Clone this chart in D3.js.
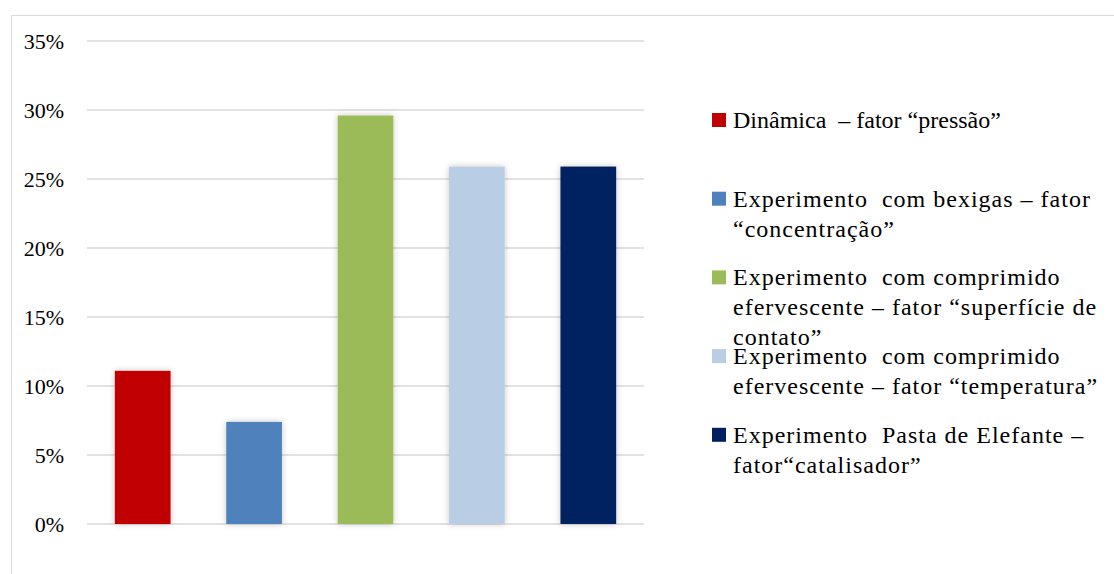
<!DOCTYPE html>
<html>
<head>
<meta charset="utf-8">
<script src="https://cdn.jsdelivr.net/npm/d3@7"></script>
<style>
  html, body { margin: 0; padding: 0; background: #fff; }
  svg text { font-family: "Liberation Serif", "Times New Roman", serif; fill: #000; white-space: pre; }
</style>
</head>
<body>
<svg id="chart" width="1114" height="574"></svg>
<script>
// Share of activities by reaction-rate factor
const categories = [
  "Dinâmica – fator “pressão”",
  "Experimento com bexigas – fator “concentração”",
  "Experimento com comprimido efervescente – fator “superfície de contato”",
  "Experimento com comprimido efervescente – fator “temperatura”",
  "Experimento Pasta de Elefante – fator “catalisador”"
];
const values = [0.111, 0.074, 0.296, 0.259, 0.259];
const colors = ["#c00000", "#4f81bd", "#9bbb59", "#b9cde5", "#002060"];
const legendLines = [
  ["Dinâmica  – fator “pressão”"],
  ["Experimento  com bexigas – fator", "“concentração”"],
  ["Experimento  com comprimido", "efervescente – fator “superfície de", "contato”"],
  ["Experimento  com comprimido", "efervescente – fator “temperatura”"],
  ["Experimento  Pasta de Elefante –", "fator“catalisador”"]
];
const yTicks = [0, 0.05, 0.10, 0.15, 0.20, 0.25, 0.30, 0.35];

const svg = d3.select("#chart");

// chart frame
svg.append("rect")
  .attr("x", 11.5).attr("y", 15.5)
  .attr("width", 1200).attr("height", 700)
  .attr("fill", "none").attr("stroke", "#d9d9d9").attr("stroke-width", 1);

// soft glow behind bars
const defs = svg.append("defs");
const f = defs.append("filter").attr("id", "glow")
  .attr("x", "-50%").attr("y", "-50%").attr("width", "200%").attr("height", "200%");
f.append("feDropShadow")
  .attr("dx", 0).attr("dy", 0).attr("stdDeviation", 3)
  .attr("flood-color", "#000").attr("flood-opacity", 0.22);

const x = d3.scaleBand()
  .domain(categories)
  .range([87, 644])
  .paddingInner(0.5)
  .paddingOuter(0.25);

const y = d3.scaleLinear().domain([0, 0.35]).range([524, 41]);

// gridlines
svg.append("g")
  .selectAll("line")
  .data(yTicks)
  .join("line")
  .attr("x1", 87).attr("x2", 644)
  .attr("y1", d => y(d)).attr("y2", d => y(d))
  .attr("stroke", "#d9d9d9").attr("stroke-width", 1.5);

// y-axis labels
const yAxis = d3.axisLeft(y)
  .tickValues(yTicks)
  .tickFormat(d3.format(".0%"))
  .tickSize(0)
  .tickPadding(0);
const gy = svg.append("g").attr("transform", "translate(64,0)").call(yAxis);
gy.select(".domain").remove();
gy.selectAll("text")
  .attr("font-size", 22)
  .attr("dy", "0.36em")
  .attr("fill", "#000")
  .style("font-family", "'Liberation Serif', 'Times New Roman', serif");

// bars
svg.append("g")
  .selectAll("rect")
  .data(values)
  .join("rect")
  .attr("x", (d, i) => x(categories[i]))
  .attr("width", x.bandwidth())
  .attr("y", d => y(d))
  .attr("height", d => y(0) - y(d))
  .attr("fill", (d, i) => colors[i])
  .attr("filter", "url(#glow)");

// legend
const legend = svg.append("g").attr("transform", "translate(712,128)");
const entry = legend.selectAll("g")
  .data(legendLines)
  .join("g")
  .attr("transform", (d, i) => `translate(0,${i * 78.7})`);
entry.append("rect")
  .attr("x", 0).attr("y", -15)
  .attr("width", 14).attr("height", 14)
  .attr("fill", (d, i) => colors[i]);
entry.append("text")
  .attr("x", 21)
  .attr("font-size", 24)
  .attr("letter-spacing", (d, i) => i === 0 ? 0 : 1)
  .selectAll("tspan")
  .data(d => d)
  .join("tspan")
  .attr("x", 21)
  .attr("y", (d, j) => j * 30)
  .text(d => d);
</script>
</body>
</html>
